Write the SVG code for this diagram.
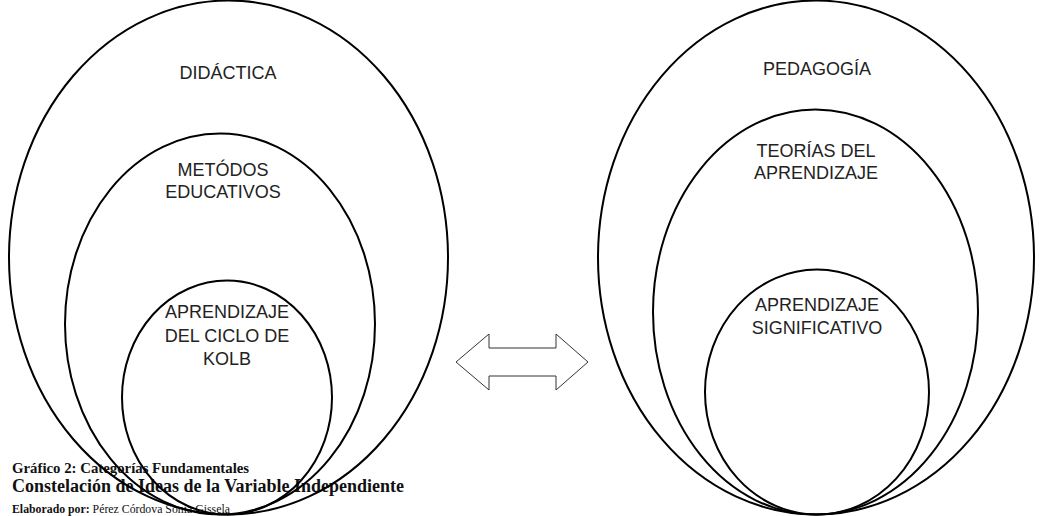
<svg xmlns="http://www.w3.org/2000/svg" width="1054" height="516" viewBox="0 0 1054 516">
<style>
.e{fill:none;stroke:#000;stroke-width:2}
.l{font-family:"Liberation Sans",Arial,sans-serif;font-size:18px;fill:#222;text-anchor:middle}
.c{font-family:"Liberation Serif","Times New Roman",serif;fill:#111}
</style>
<rect width="1054" height="516" fill="#fff"/>
<g id="caption">
<text class="c" x="12" y="473" font-size="14.8" font-weight="bold">Gráfico 2: Categorías Fundamentales</text>
<text class="c" x="12" y="492" font-size="18" font-weight="bold">Constelación de Ideas de la Variable Independiente</text>
<text class="c" x="12" y="513" font-size="11.8"><tspan font-weight="bold">Elaborado por:</tspan> Pérez Córdova Sonia Gissela</text>
</g>
<g id="didactica">
<ellipse class="e" cx="228.5" cy="257.5" rx="219.5" ry="257"/>
<text class="l" x="228" y="79">DIDÁCTICA</text>
</g>
<g id="metodos">
<ellipse class="e" cx="220" cy="324" rx="155" ry="190.5"/>
<text class="l" x="223" y="176">METÓDOS</text>
<text class="l" x="223" y="198">EDUCATIVOS</text>
</g>
<g id="kolb">
<ellipse class="e" cx="227" cy="397.5" rx="105" ry="117"/>
<text class="l" x="227" y="318">APRENDIZAJE</text>
<text class="l" x="227" y="342">DEL CICLO DE</text>
<text class="l" x="227" y="365">KOLB</text>
</g>
<g id="pedagogia">
<ellipse class="e" cx="816" cy="257.5" rx="218" ry="257"/>
<text class="l" x="817" y="75">PEDAGOGÍA</text>
</g>
<g id="teorias">
<ellipse class="e" cx="815.5" cy="312" rx="162.5" ry="202.5"/>
<text class="l" x="816" y="157">TEORÍAS DEL</text>
<text class="l" x="816" y="179">APRENDIZAJE</text>
</g>
<g id="significativo">
<ellipse class="e" cx="817" cy="392" rx="112" ry="122.5"/>
<text class="l" x="817" y="311">APRENDIZAJE</text>
<text class="l" x="817" y="334">SIGNIFICATIVO</text>
</g>
<g id="connectors">
<path d="M456,362 L489,334 L489,348 L556,348 L556,334 L588,362 L556,390 L556,376 L489,376 L489,390 Z" fill="#fff" stroke="#333" stroke-width="1"/>
</g>
</svg>
